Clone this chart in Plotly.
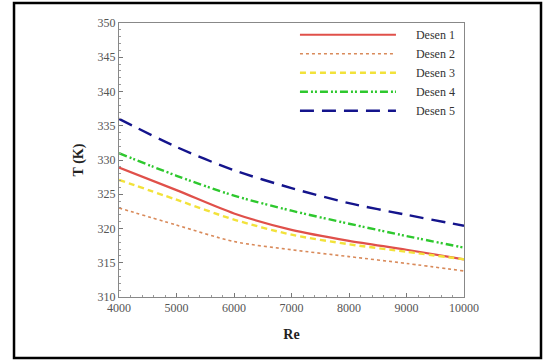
import plotly.graph_objects as go

# Reynolds number samples
re_vals = [4000, 5000, 6000, 7000, 8000, 9000, 10000]

# Temperature (K) for each design
desen1 = [328.9, 325.6, 322.2, 319.8, 318.2, 316.9, 315.5]
desen2 = [323.0, 320.5, 318.1, 316.9, 315.9, 314.9, 313.8]
desen3 = [327.1, 324.2, 321.3, 319.1, 317.7, 316.6, 315.5]
desen4 = [331.0, 327.7, 324.8, 322.6, 320.7, 318.9, 317.2]
desen5 = [336.0, 331.9, 328.5, 325.9, 323.7, 322.0, 320.4]

names = ["Desen 1", "Desen 2", "Desen 3", "Desen 4", "Desen 5"]
series = [desen1, desen2, desen3, desen4, desen5]
styles = [
    dict(color="#e0504a", width=2.2, dash="solid"),
    dict(color="#d98a5a", width=1.6, dash="dot"),
    dict(color="#f2e23a", width=2.4, dash="6px,4px"),
    dict(color="#2ec82e", width=2.4, dash="8px,3px,2px,2px,2px,3px"),
    dict(color="#14148c", width=2.4, dash="14px,8px"),
]

fig = go.Figure()
for name, ys, st in zip(names, series, styles):
    fig.add_trace(go.Scatter(
        x=re_vals, y=ys, name="\u00a0" * 5 + name, mode="lines",
        line=dict(shape="spline", smoothing=0.8, **st),
    ))

serif = "Liberation Serif"

fig.update_layout(
    width=547, height=360,
    margin=dict(l=119, r=83, t=23, b=63),
    paper_bgcolor="white", plot_bgcolor="white",
    showlegend=True,
    legend=dict(
        x=0.51, y=1.01, xanchor="left", yanchor="top",
        bgcolor="rgba(0,0,0,0)", borderwidth=0,
        font=dict(family=serif, size=12, color="#333"),
        itemwidth=96, tracegroupgap=0,
    ),
    xaxis=dict(
        range=[4000, 10000], dtick=1000, tick0=4000, tickformat="d",
        ticks="inside", ticklen=4, tickcolor="#777",
        minor=dict(dtick=200, ticks="inside", ticklen=2, tickcolor="#999"),
        showline=True, linecolor="#888", linewidth=1, mirror=True,
        showgrid=False, zeroline=False,
        tickfont=dict(family=serif, size=12, color="#555"),
        title=dict(text="<b>Re</b>", font=dict(family=serif, size=14, color="#222"), standoff=14),
    ),
    yaxis=dict(
        range=[310, 350], dtick=5, tick0=310,
        ticks="inside", ticklen=4, tickcolor="#777",
        minor=dict(dtick=1, ticks="inside", ticklen=2, tickcolor="#999"),
        showline=True, linecolor="#888", linewidth=1, mirror=True,
        showgrid=False, zeroline=False,
        tickfont=dict(family=serif, size=12, color="#555"),
        title=dict(text="<b>T (K)</b>", font=dict(family=serif, size=14, color="#222"), standoff=10),
    ),
    shapes=[dict(
        type="rect", xref="paper", yref="paper",
        x0=-0.3043, x1=1.2232, y0=-0.2226, y1=1.073,
        line=dict(color="black", width=2.5), fillcolor="rgba(0,0,0,0)",
    )],
)

fig.write_html("out.html")
